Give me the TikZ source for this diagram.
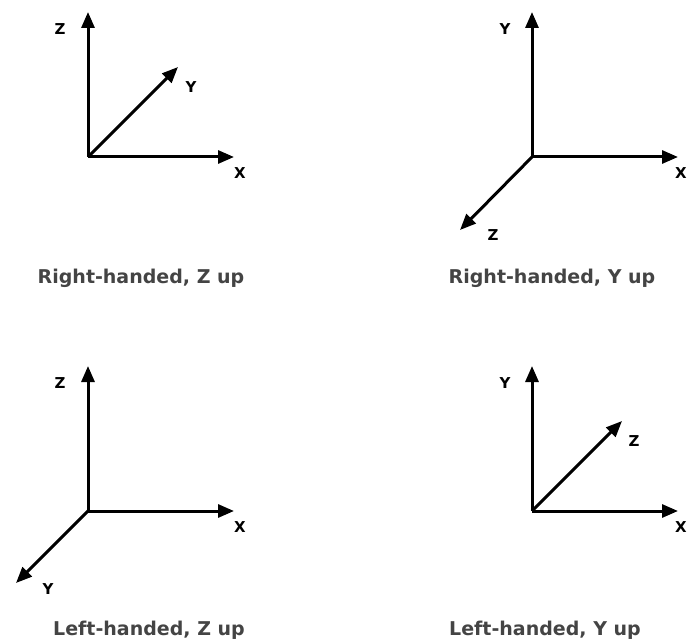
\documentclass[tikz,border=0pt]{standalone}
\usepackage{fontspec}
\setmainfont{DejaVu Sans}
\usetikzlibrary{arrows.meta}
\definecolor{captiongray}{RGB}{68,68,68}
\tikzset{
	axis/.style = {line width=3bp, -{Triangle[length=16bp, width=13bp]}},
	axislabel/.style = {font=\fontsize{15bp}{15bp}\selectfont\bfseries},
	caption/.style = {font=\fontsize{19bp}{19bp}\selectfont\bfseries, text=captiongray}
}
\begin{document}
\begin{tikzpicture} [x = 1bp, y = -1bp]
	\useasboundingbox (0,0) rectangle (688,644);
	% right-handed, Z up
	\coordinate (o1) at (88,157);
	\coordinate (z1) at (88,12);
	\coordinate (x1) at (234,157);
	\coordinate (y1) at (178,67);
	\draw [axis] (o1) -- (z1);
	\draw [axis] (o1) -- (x1);
	\draw [axis] (o1) -- (y1);
	\node [axislabel] (lz1) at (60,29) {Z};
	\node [axislabel] (lx1) at (240,173) {X};
	\node [axislabel] (ly1) at (191,87) {Y};
	\node [caption] (c1) at (141,278) {Right-handed, Z up};
	% right-handed, Y up
	\coordinate (o2) at (532,157);
	\coordinate (y2) at (532,12);
	\coordinate (x2) at (678,157);
	\coordinate (z2) at (460,230);
	\draw [axis] (o2) -- (y2);
	\draw [axis] (o2) -- (x2);
	\draw [axis] (o2) -- (z2);
	\node [axislabel] (ly2) at (505,29) {Y};
	\node [axislabel] (lx2) at (681,173) {X};
	\node [axislabel] (lz2) at (493,235) {Z};
	\node [caption] (c2) at (552,278) {Right-handed, Y up};
	% left-handed, Z up
	\coordinate (o3) at (88,511);
	\coordinate (z3) at (88,366);
	\coordinate (x3) at (234,511);
	\coordinate (y3) at (16,583);
	\draw [axis] (o3) -- (z3);
	\draw [axis] (o3) -- (x3);
	\draw [axis] (o3) -- (y3);
	\node [axislabel] (lz3) at (60,383) {Z};
	\node [axislabel] (lx3) at (240,527) {X};
	\node [axislabel] (ly3) at (48,589) {Y};
	\node [caption] (c3) at (149,630) {Left-handed, Z up};
	% left-handed, Y up
	\coordinate (o4) at (532,511);
	\coordinate (y4) at (532,366);
	\coordinate (x4) at (678,511);
	\coordinate (z4) at (622,421);
	\draw [axis] (o4) -- (y4);
	\draw [axis] (o4) -- (x4);
	\draw [axis] (o4) -- (z4);
	\node [axislabel] (ly4) at (505,383) {Y};
	\node [axislabel] (lx4) at (681,527) {X};
	\node [axislabel] (lz4) at (634,441) {Z};
	\node [caption] (c4) at (545,630) {Left-handed, Y up};
\end{tikzpicture}
\end{document}
